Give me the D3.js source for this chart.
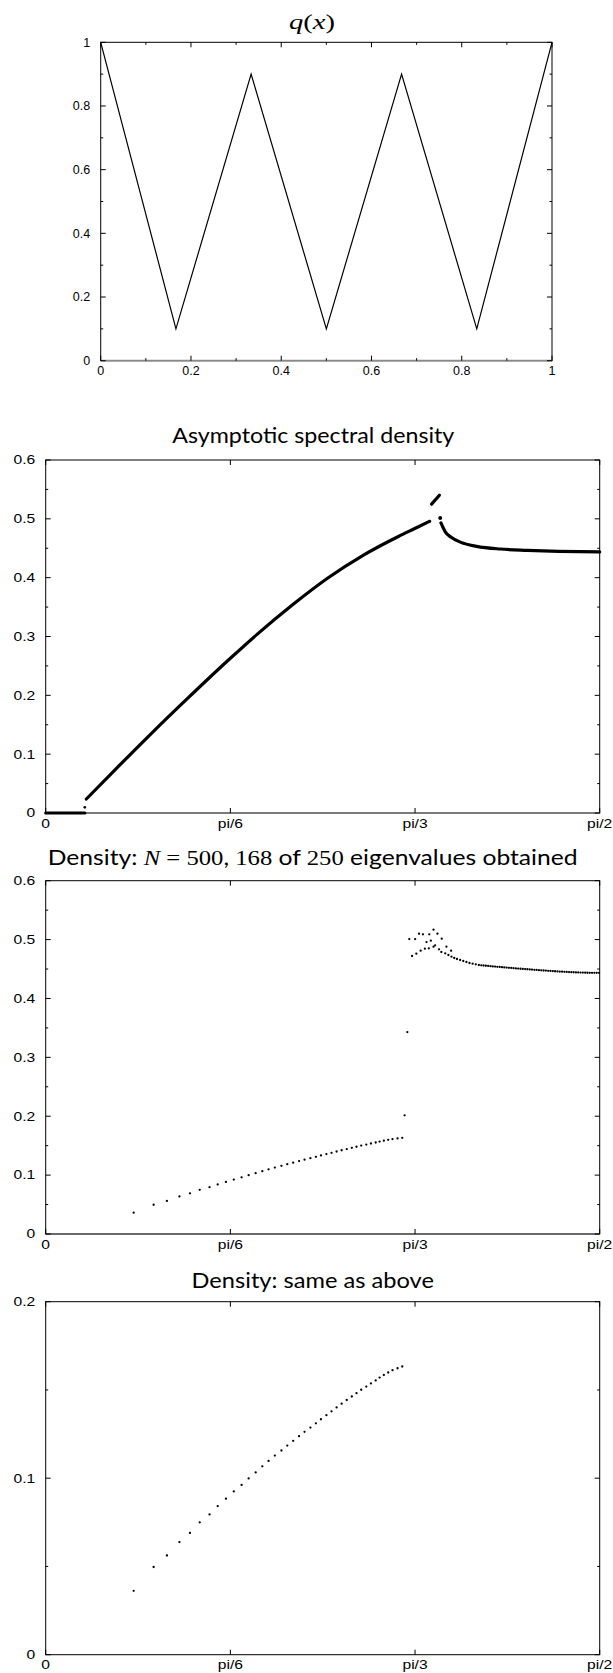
<!DOCTYPE html>
<html>
<head>
<meta charset="utf-8">
<script src="https://cdn.jsdelivr.net/npm/d3@7"></script>
<style>
  html, body { margin: 0; padding: 0; background: #fff; }
  svg { display: block; }
  text { white-space: pre; }
</style>
</head>
<body>
<svg id="chart" width="613" height="1673"></svg>
<script>
// ---------- data ----------
// q(x): piecewise-linear profile
const qX = [0, 0.1667, 0.3333, 0.5, 0.6667, 0.8333, 1];
const qY = [1, 0.1, 0.9, 0.1, 0.9, 0.1, 1];
const qTicks = [0, 0.2, 0.4, 0.6, 0.8, 1];
const qTickLabels = ["0", "0.2", "0.4", "0.6", "0.8", "1"];
const qMinorTicks = [0.1, 0.3, 0.5, 0.7, 0.9];

// angle axis shared by the density panels
const angleTicks = [0, Math.PI / 6, Math.PI / 3, Math.PI / 2];
const angleTickLabels = ["0", "pi/6", "pi/3", "pi/2"];

// asymptotic spectral density (angle in radians)
const asymZeroX = [0, 0.1109];
const asymZeroY = [0, 0];
const asymEdgeX = [0.1109];
const asymEdgeY = [0.0096];
const asymRiseX = [0.1153, 0.2000, 0.3000, 0.4000, 0.5236, 0.6000, 0.7000, 0.8000, 0.9000, 1.0000, 1.0465, 1.0886];
const asymRiseY = [0.0238, 0.0755, 0.1355, 0.1935, 0.2630, 0.3040, 0.3540, 0.3995, 0.4380, 0.4700, 0.4835, 0.4958];
const asymKinkX = [1.0941, 1.1163];
const asymKinkY = [0.5250, 0.5400];
const asymPeakX = [1.1186];
const asymPeakY = [0.5014];
const asymFallX = [1.1207, 1.1329, 1.1496, 1.1773, 1.2217, 1.2882, 1.3658, 1.4544, 1.5708];
const asymFallY = [0.4930, 0.4780, 0.4686, 0.4600, 0.4533, 0.4487, 0.4465, 0.4448, 0.4437];

// computed eigenvalue density, N = 500
const lowX = [0.2494, 0.3060, 0.3437, 0.3792, 0.4090, 0.4367, 0.4645, 0.4877, 0.5110, 0.5333,
              0.5554, 0.5754, 0.5953, 0.6142, 0.6319, 0.6497, 0.6684, 0.6850, 0.7017, 0.7183,
              0.7339, 0.7505, 0.7661, 0.7804, 0.7959, 0.8104, 0.8248, 0.8391, 0.8536, 0.8680,
              0.8812, 0.8946, 0.9090, 0.9222, 0.9356, 0.9467, 0.9588, 0.9711, 0.9833, 0.9976, 1.0110];
const lowY = [0.0362, 0.0497, 0.0562, 0.0638, 0.0690, 0.0750, 0.0795, 0.0842, 0.0884, 0.0925,
              0.0962, 0.0999, 0.1033, 0.1067, 0.1098, 0.1128, 0.1157, 0.1185, 0.1212, 0.1238,
              0.1263, 0.1287, 0.1311, 0.1334, 0.1357, 0.1379, 0.1401, 0.1422, 0.1443, 0.1463,
              0.1482, 0.1501, 0.1519, 0.1537, 0.1554, 0.1570, 0.1585, 0.1599, 0.1612, 0.1623, 0.1633];
const jumpX = [1.0176, 1.0254];
const jumpY = [0.2015, 0.3430];
const upperX = [1.0309, 1.0475, 1.0586, 1.0697, 1.0797, 1.0875, 1.0919, 1.0996, 1.1107, 1.1229, 1.1362, 1.1495];
const upperY = [0.5009, 0.5009, 0.5100, 0.5089, 0.4958, 0.5089, 0.4981, 0.5168, 0.5100, 0.5015, 0.4879, 0.4811];
const middleX = [1.0387, 1.0509, 1.0631, 1.0752, 1.0863, 1.0996, 1.1041, 1.1152, 1.1218, 1.1329,
                 1.1418, 1.1506, 1.1584, 1.1662, 1.1750, 1.1839, 1.1928, 1.2016, 1.2105, 1.2194, 1.2282];
const middleY = [0.4721, 0.4760, 0.4811, 0.4845, 0.4851, 0.4879, 0.4902, 0.4834, 0.4789, 0.4766,
                 0.4738, 0.4709, 0.4687, 0.4670, 0.4653, 0.4636, 0.4619, 0.4602, 0.4591, 0.4579, 0.4568];
const tailX = [1.2350, 1.2415, 1.2480, 1.2545, 1.2612, 1.2676, 1.2742, 1.2806, 1.2873, 1.2938,
               1.3003, 1.3069, 1.3134, 1.3200, 1.3265, 1.3331, 1.3396, 1.3462, 1.3527, 1.3593,
               1.3658, 1.3724, 1.3789, 1.3855, 1.3920, 1.3986, 1.4051, 1.4117, 1.4182, 1.4248,
               1.4313, 1.4379, 1.4444, 1.4510, 1.4575, 1.4641, 1.4706, 1.4772, 1.4837, 1.4903,
               1.4968, 1.5034, 1.5099, 1.5165, 1.5230, 1.5296, 1.5361, 1.5427, 1.5492, 1.5558, 1.5623, 1.5689];
const tailY = [0.4563, 0.4560, 0.4556, 0.4552, 0.4549, 0.4545, 0.4542, 0.4538, 0.4535, 0.4531,
               0.4528, 0.4525, 0.4521, 0.4518, 0.4515, 0.4511, 0.4508, 0.4505, 0.4502, 0.4499,
               0.4496, 0.4493, 0.4490, 0.4487, 0.4484, 0.4481, 0.4478, 0.4475, 0.4473, 0.4470,
               0.4467, 0.4465, 0.4462, 0.4460, 0.4457, 0.4455, 0.4453, 0.4451, 0.4449, 0.4447,
               0.4445, 0.4443, 0.4442, 0.4440, 0.4439, 0.4438, 0.4437, 0.4436, 0.4436, 0.4435, 0.4435, 0.4435];

const densTicks = [0, 0.1, 0.2, 0.3, 0.4, 0.5, 0.6];
const densTickLabels = ["0", "0.1", "0.2", "0.3", "0.4", "0.5", "0.6"];
const densMinorTicks = [0.05, 0.15, 0.25, 0.35, 0.45, 0.55];
const zoomTicks = [0, 0.1, 0.2];
const zoomTickLabels = ["0", "0.1", "0.2"];
const zoomMinorTicks = [0.05, 0.15];

// ---------- drawing ----------
const svg = d3.select("#chart");
const SANS = "'Liberation Sans', Arial, sans-serif";
const TITLE_SANS = "Lato, 'DejaVu Sans', sans-serif";
const SERIF = "'Liberation Serif', 'DejaVu Serif', serif";
const zip = (xs, ys) => xs.map((x, i) => [x, ys[i]]);

function makePanel(o) {
  const x = d3.scaleLinear().domain(o.xDomain).range([o.left, o.right]);
  const y = d3.scaleLinear().domain(o.yDomain).range([o.bottom, o.top]);
  const g = svg.append("g");

  // frame
  g.append("rect")
    .attr("x", o.left).attr("y", o.top)
    .attr("width", o.right - o.left).attr("height", o.bottom - o.top)
    .attr("fill", "none").attr("stroke", "#000").attr("stroke-width", 1);
  if (o.bottomColor) {
    g.append("line")
      .attr("x1", o.left).attr("x2", o.right)
      .attr("y1", o.bottom).attr("y2", o.bottom)
      .attr("stroke", o.bottomColor).attr("stroke-width", 1.8);
  }

  // inward ticks on all four sides
  const tk = g.append("g").attr("stroke", "#000").attr("stroke-width", 1);
  const xt = (vals, len) => vals.forEach(v => {
    tk.append("line").attr("x1", x(v)).attr("x2", x(v)).attr("y1", o.bottom).attr("y2", o.bottom - len);
    tk.append("line").attr("x1", x(v)).attr("x2", x(v)).attr("y1", o.top).attr("y2", o.top + len);
  });
  const yt = (vals, len) => vals.forEach(v => {
    tk.append("line").attr("y1", y(v)).attr("y2", y(v)).attr("x1", o.left).attr("x2", o.left + len);
    tk.append("line").attr("y1", y(v)).attr("y2", y(v)).attr("x1", o.right).attr("x2", o.right - len);
  });
  xt(o.xTicks, 5); yt(o.yTicks, 5);
  if (o.xMinor) xt(o.xMinor, 2.5);
  if (o.yMinor) yt(o.yMinor, 2.5);

  // tick labels
  const lab = g.append("g").attr("font-family", SANS).attr("font-size", o.labelSize).attr("fill", "#000");
  o.xTicks.forEach((v, i) => {
    lab.append("text")
      .attr("transform", `translate(${x(v)},${o.bottom + 14.5}) scale(${o.labelStretch},1)`)
      .attr("text-anchor", "middle").text(o.xLabels[i]);
  });
  o.yTicks.forEach((v, i) => {
    lab.append("text")
      .attr("transform", `translate(${o.left - 10.5},${y(v)}) scale(${o.labelStretch},1)`)
      .attr("text-anchor", "end").attr("dy", "0.35em").text(o.yLabels[i]);
  });

  return { g, x, y };
}

function fitTitle(parts, cx, baseline, width, size) {
  const t = svg.append("text").attr("font-size", size).attr("fill", "#000");
  parts.forEach(p => {
    t.append("tspan")
      .attr("font-family", p.serif ? SERIF : TITLE_SANS)
      .attr("font-style", p.italic ? "italic" : "normal")
      .text(p.t);
  });
  const w = t.node().getBBox().width;
  const s = width / w;
  t.attr("transform", `translate(${cx - (w * s) / 2},${baseline}) scale(${s},1)`);
}

// ---- panel 1: q(x) ----
{
  const p = makePanel({
    left: 100.7, right: 552, top: 42.3, bottom: 360.7,
    xDomain: [0, 1], yDomain: [0, 1],
    xTicks: qTicks, xLabels: qTickLabels, xMinor: qMinorTicks,
    yTicks: qTicks, yLabels: qTickLabels, yMinor: qMinorTicks,
    labelSize: 12.5, labelStretch: 1.0, bottomColor: "#8a8a8a"
  });
  p.g.append("path")
    .datum(zip(qX, qY))
    .attr("fill", "none").attr("stroke", "#000").attr("stroke-width", 1.2)
    .attr("d", d3.line().x(d => p.x(d[0])).y(d => p.y(d[1])));
  fitTitle([
    { t: "q", serif: true, italic: true }, { t: "(", serif: true },
    { t: "x", serif: true, italic: true }, { t: ")", serif: true }
  ], 312, 29, 46, 22);
}

const densityFrame = (top, bottom, yDom, yT, yL, yM, bottomColor) => makePanel({
  left: 45.7, right: 599.7, top, bottom,
  xDomain: [0, Math.PI / 2], yDomain: yDom,
  xTicks: angleTicks, xLabels: angleTickLabels,
  yTicks: yT, yLabels: yL, yMinor: yM,
  labelSize: 12.5, labelStretch: 1.25, bottomColor
});

// ---- panel 2: asymptotic density ----
{
  const p = densityFrame(460, 813, [0, 0.6], densTicks, densTickLabels, densMinorTicks, "#7a7a7a");
  const thick = (xs, ys, curve) => p.g.append("path")
    .datum(zip(xs, ys))
    .attr("fill", "none").attr("stroke", "#000").attr("stroke-width", 3.2)
    .attr("stroke-linecap", "round").attr("stroke-linejoin", "round")
    .attr("d", d3.line().curve(curve || d3.curveLinear).x(d => p.x(d[0])).y(d => p.y(d[1])));
  thick(asymZeroX, asymZeroY);
  thick(asymRiseX, asymRiseY, d3.curveMonotoneX);
  thick(asymKinkX, asymKinkY);
  thick(asymFallX, asymFallY, d3.curveMonotoneX);
  const dot = (xs, ys, r) => p.g.selectAll(null).data(zip(xs, ys)).enter().append("circle")
    .attr("cx", d => p.x(d[0])).attr("cy", d => p.y(d[1])).attr("r", r).attr("fill", "#000");
  dot(asymEdgeX, asymEdgeY, 1.3);
  dot(asymPeakX, asymPeakY, 2.0);
  fitTitle([{ t: "Asymptotic spectral density" }], 313.7, 443.3, 283, 22);
}

// eigenvalue points shared by panels 3 and 4
const eigenPoints = [].concat(
  zip(lowX, lowY), zip(jumpX, jumpY), zip(upperX, upperY), zip(middleX, middleY), zip(tailX, tailY)
);

// ---- panel 3: computed density ----
{
  const p = densityFrame(880.7, 1234, [0, 0.6], densTicks, densTickLabels, densMinorTicks, "#6a6a6a");
  p.g.selectAll(null).data(eigenPoints).enter().append("circle")
    .attr("cx", d => p.x(d[0])).attr("cy", d => p.y(d[1])).attr("r", 1.15).attr("fill", "#000");
  fitTitle([
    { t: "Density: " }, { t: "N", serif: true, italic: true }, { t: " = 500", serif: true },
    { t: ", " }, { t: "168", serif: true }, { t: " of " }, { t: "250", serif: true },
    { t: " eigenvalues obtained" }
  ], 312.75, 865, 530, 22);
}

// ---- panel 4: same data, lower range ----
{
  const p = densityFrame(1301.7, 1654.7, [0, 0.2], zoomTicks, zoomTickLabels, zoomMinorTicks, null);
  p.g.selectAll(null).data(eigenPoints.filter(d => d[1] <= 0.2)).enter().append("circle")
    .attr("cx", d => p.x(d[0])).attr("cy", d => p.y(d[1])).attr("r", 1.15).attr("fill", "#000");
  fitTitle([{ t: "Density: same as above" }], 312.75, 1288.3, 242.5, 22);
}
</script>
</body>
</html>
